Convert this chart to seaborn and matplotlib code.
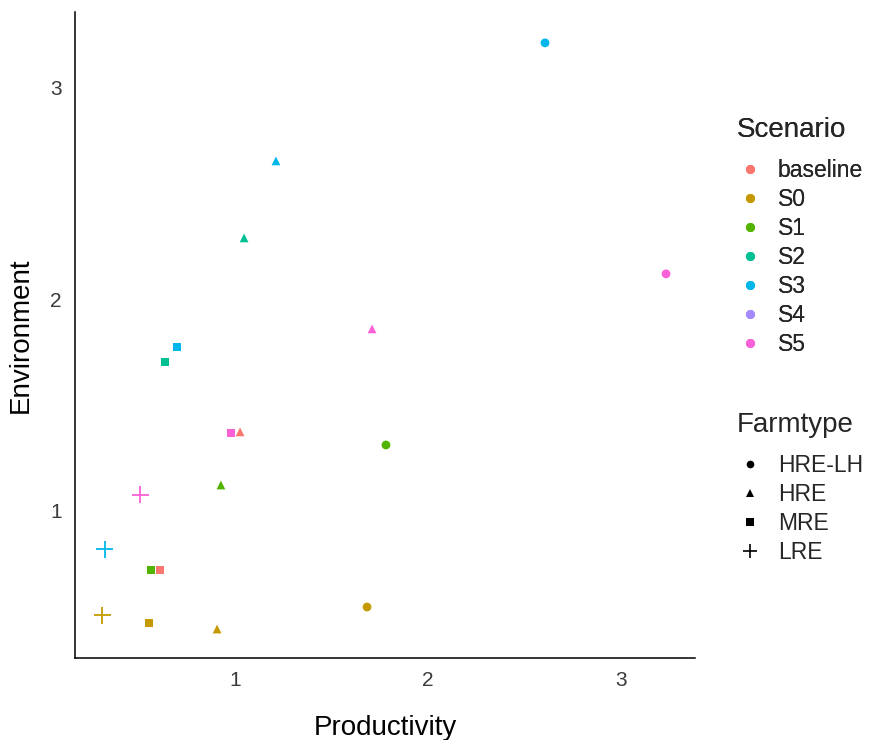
import matplotlib
matplotlib.use("Agg")
import matplotlib.pyplot as plt
import seaborn as sns
import pandas as pd
from matplotlib.lines import Line2D

scenario = ["S3", "S5", "S3", "S2", "S5", "S3", "S2", "S5", "baseline", "S1",
            "S1", "S5", "S3", "S1", "baseline", "S0", "S0", "S0", "S0"]
farmtype = ["HRE-LH", "HRE-LH", "HRE", "HRE", "HRE", "MRE", "MRE", "MRE", "HRE", "HRE-LH",
            "HRE", "LRE", "LRE", "MRE", "MRE", "LRE", "MRE", "HRE", "HRE-LH"]
productivity = [2.606, 3.233, 1.212, 1.047, 1.710, 0.699, 0.637, 0.979, 1.026, 1.782,
                0.927, 0.508, 0.326, 0.565, 0.611, 0.311, 0.554, 0.907, 1.684]
environment = [3.213, 2.121, 2.655, 2.291, 1.861, 1.775, 1.704, 1.369, 1.374, 1.312,
               1.123, 1.076, 0.820, 0.721, 0.721, 0.508, 0.470, 0.442, 0.546]

scen_levels = ["baseline", "S0", "S1", "S2", "S3", "S4", "S5"]
farm_levels = ["HRE-LH", "HRE", "MRE", "LRE"]
colors = ["#F8766D", "#C49A00", "#53B400", "#00C094", "#00B6EB", "#A58AFF", "#FB61D7"]
palette = dict(zip(scen_levels, colors))

df = pd.DataFrame({"Scenario": scenario, "Farmtype": farmtype,
                   "Productivity": productivity, "Environment": environment})

sns.set_style("white")
plt.rcParams['font.family'] = ['Liberation Sans', 'DejaVu Sans']

fig = plt.figure(figsize=(8.69, 7.4), dpi=100)
ax = fig.add_axes([75/869, 82/740, 620/869, 646/740])

filled = df[df.Farmtype != "LRE"]
lre = df[df.Farmtype == "LRE"]
sns.scatterplot(data=filled, x="Productivity", y="Environment", hue="Scenario",
                style="Farmtype", hue_order=scen_levels, palette=palette,
                markers={"HRE-LH": "o", "HRE": "^", "MRE": "s"},
                style_order=["HRE-LH", "HRE", "MRE"],
                s=40, linewidth=0, legend=False, ax=ax)
sns.scatterplot(data=lre, x="Productivity", y="Environment", hue="Scenario",
                hue_order=scen_levels, palette=palette, marker="+",
                s=150, linewidth=1.3, legend=False, ax=ax)

ax.set_xlim(0.171, 3.383)
ax.set_ylim(0.305, 3.359)
ax.set_xticks([1, 2, 3])
ax.set_yticks([1, 2, 3])
for s in ["top", "right"]:
    ax.spines[s].set_visible(False)
for s in ["left", "bottom"]:
    ax.spines[s].set_color("black")
    ax.spines[s].set_linewidth(1.1)
ax.tick_params(axis="both", length=4.5, width=1.0, color="#333333",
               labelsize=15, labelcolor="#3A3A3A", direction="out", pad=5)
ax.set_xlabel("Productivity", fontsize=20, color="black", labelpad=18)
ax.set_ylabel("Environment", fontsize=20, color="black", labelpad=12)

def make_legend(handles, labels, title, top_px):
    leg = fig.legend(handles, labels, title=title, loc="upper left",
                     bbox_to_anchor=(725/869, 1 - top_px/740), frameon=False,
                     fontsize=16.5, title_fontsize=20, handlelength=1.2,
                     handletextpad=0.6, labelspacing=0.26, borderpad=0,
                     alignment="left")
    leg._legend_box.sep = 11.5
    return leg

h1 = [Line2D([], [], marker="o", linestyle="", color=c, markersize=5.5) for c in colors]
leg1 = make_legend(h1, scen_levels, "Scenario", 106)
markers = ["o", "^", "s", "+"]
h2 = [Line2D([], [], marker=m, linestyle="", color="black",
             markersize=(10 if m == "+" else 5.5), markeredgewidth=(1.2 if m == "+" else 0))
      for m in markers]
leg2 = make_legend(h2, farm_levels, "Farmtype", 401)
fig.add_artist(leg1)

fig.savefig("out.png", dpi=100)
